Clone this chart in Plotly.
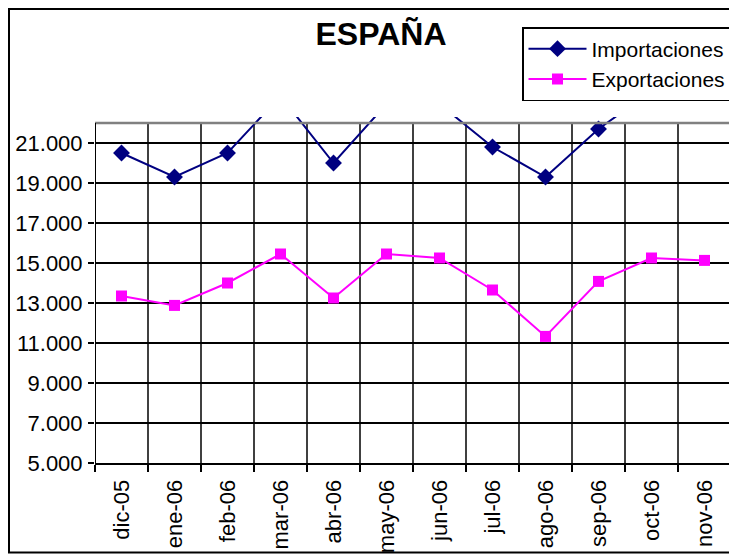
import plotly.graph_objects as go

# datos (valores mensuales)
meses = ["dic-05", "ene-06", "feb-06", "mar-06", "abr-06", "may-06",
         "jun-06", "jul-06", "ago-06", "sep-06", "oct-06", "nov-06"]
importaciones = [20500, 19300, 20500, 23350, 20000, 22950,
                 22950, 20800, 19300, 21700, 23600, 23500]
exportaciones = [13350, 12880, 14000, 15450, 13250, 15450,
                 15250, 13650, 11330, 14080, 15250, 15130]
y_ticks = [5000, 7000, 9000, 11000, 13000, 15000, 17000, 19000, 21000]

# la pagina html tiene 8px de margen en body -> figura algo mas pequena
OFF = 8
W, H = 737 - OFF, 554 - OFF
ML, MR, MT, MB = 87, 6, 109, 91
pw, ph = W - ML - MR, H - MT - MB
x_pos = list(range(len(meses)))
font = "Arial, Liberation Sans, sans-serif"

fig = go.Figure()
fig.add_trace(go.Scatter(x=x_pos, y=importaciones, name="Importaciones", mode="lines+markers",
                         line=dict(color="#000080", width=2),
                         marker=dict(symbol="diamond", size=13, color="#000080")))
fig.add_trace(go.Scatter(x=x_pos, y=exportaciones, name="Exportaciones", mode="lines+markers",
                         line=dict(color="#FF00FF", width=2),
                         marker=dict(symbol="square", size=11, color="#FF00FF")))

# helpers pixel (de la figura) -> paper
def px_x(p):
    return (p - ML) / pw

def px_y(p):
    return (H - MB - p) / ph

shapes = []
# rejilla vertical entre categorias (solo hasta el borde superior del area)
for k in range(1, len(meses)):
    shapes.append(dict(type="line", xref="x", yref="y", x0=k - 0.5, x1=k - 0.5, y0=5000, y1=22000,
                       line=dict(color="black", width=1.5), layer="below"))
# borde gris del area de trazado
shapes.append(dict(type="line", xref="x", yref="y", x0=-0.5, x1=11.5, y0=22000, y1=22000,
                   line=dict(color="#808080", width=2.5)))
shapes.append(dict(type="line", xref="x", yref="y", x0=11.5, x1=11.5, y0=5000, y1=22000,
                   line=dict(color="#808080", width=2.5)))
# eje y
shapes.append(dict(type="line", xref="x", yref="y", x0=-0.5, x1=-0.5, y0=5000, y1=22000,
                   line=dict(color="black", width=2)))
# marco del grafico
shapes.append(dict(type="rect", xref="paper", yref="paper",
                   x0=px_x(1), x1=px_x(727), y0=px_y(544.5), y1=px_y(1),
                   line=dict(color="black", width=2)))

fig.update_layout(
    width=W, height=H,
    margin=dict(l=ML, r=MR, t=MT, b=MB, autoexpand=False),
    paper_bgcolor="white", plot_bgcolor="white",
    separators=",.",
    font=dict(family=font, color="black", size=22),
    title=dict(text="<b>ESPAÑA</b>", x=373 / W, xanchor="center", y=1 - 26 / H, yanchor="middle",
               yref="container", font=dict(family=font, size=32, color="black")),
    showlegend=True,
    legend=dict(x=px_x(514), y=px_y(19), xanchor="left", yanchor="top",
                bgcolor="white", bordercolor="black", borderwidth=1.5,
                font=dict(family=font, size=21), tracegroupgap=0,
                itemwidth=58),
    shapes=shapes,
)
fig.update_xaxes(range=[-0.5, 11.5], tickvals=x_pos, ticktext=meses, tickangle=-90,
                 ticks="", showgrid=False, zeroline=False, automargin=False,
                 showline=True, linecolor="black", linewidth=2,
                 ticklabelstandoff=6, tickfont=dict(size=22),
                 minor=dict(tickvals=[k - 0.5 for k in range(len(meses) + 1)], ticks="outside",
                            ticklen=7, tickcolor="black", tickwidth=1.5, showgrid=False))
fig.update_yaxes(range=[5000, 22300], tickvals=y_ticks, tickformat=",d", automargin=False,
                 ticks="outside", ticklen=6, tickcolor="black", tickwidth=1.5,
                 showgrid=True, gridcolor="black", gridwidth=1.5, zeroline=False,
                 showline=False, ticklabelstandoff=1, tickfont=dict(size=22))

fig.write_html("out.html")
